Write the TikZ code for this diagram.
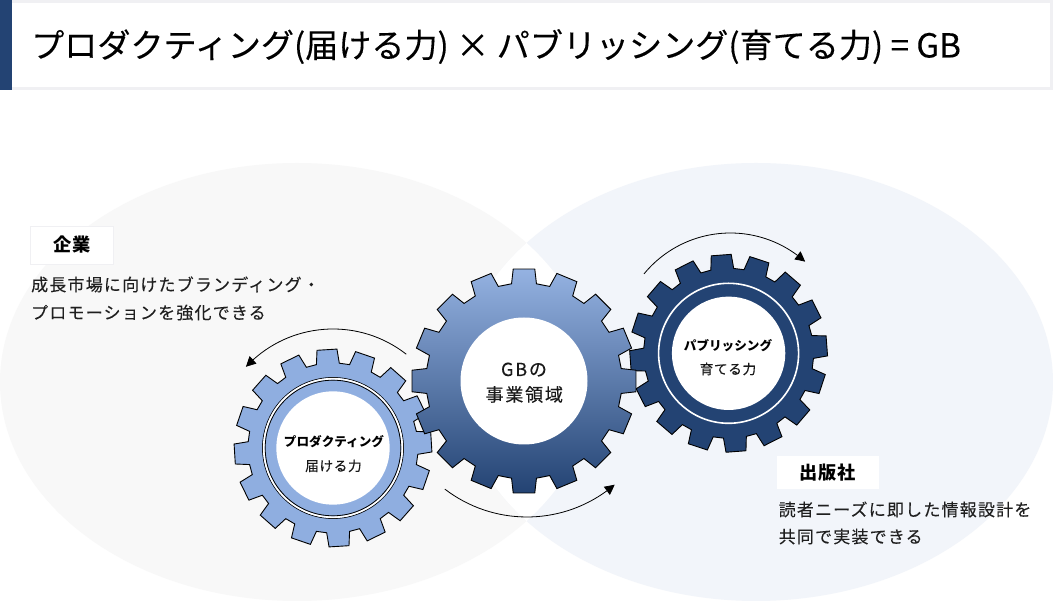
\documentclass[tikz,border=0pt]{standalone}
\usepackage{fontspec}
\usetikzlibrary{arrows.meta,bending}
\setmainfont{Noto Sans CJK JP}
\newfontfamily\jpmed{Noto Sans CJK JP}[FakeBold=0.25]
\newfontfamily\jpbold{Noto Sans CJK JP}
\newfontfamily\jpspaced{Noto Sans CJK JP}[FakeBold=0.1,LetterSpace=7]
\newfontfamily\jpgear{Noto Sans CJK JP}[FakeBold=0.25,LetterSpace=10]
\newfontfamily\jpgears{Noto Sans CJK JP}[FakeBold=0.25,LetterSpace=5]
\newfontfamily\jptag{Noto Sans CJK JP}[LetterSpace=5]
\definecolor{navy}{HTML}{234373}
\definecolor{lightblue}{HTML}{8FAEE0}
\definecolor{bandgray}{HTML}{F0F0F3}
\definecolor{lefte}{HTML}{F8F8F8}
\definecolor{righte}{HTML}{F2F5FA}
\newcommand{\gearpath}[6]{% R, r, tiphalf, basehalf, rot, path options
  \def\gp{}%
  \foreach \k in {0,...,15}{%
    \pgfmathsetmacro\ga{#5+22.5*\k}%
    \pgfmathsetmacro\gb{\ga-#4}\pgfmathsetmacro\gc{\ga-#3}%
    \pgfmathsetmacro\gd{\ga+#3}\pgfmathsetmacro\ge{\ga+#4}%
    \xdef\gp{\gp (\gb:#2) -- (\gc:#1) -- (\gd:#1) -- (\ge:#2) -- }%
  }%
  \path[#6] \gp cycle;%
}
\tikzset{
  geardraw/.style={draw=black,line width=0.9pt,line join=miter},
  tagbox/.style={fill=white,inner sep=0pt,text=black},
  tagtext/.style={anchor=base,inner sep=0pt,font=\fontsize{18.2}{18}\jptag\bfseries,text=black},
  bodytext/.style={anchor=base west,inner sep=0pt,font=\fontsize{17}{17}\jpspaced,text=black!88},
  gearbig/.style={anchor=base,inner sep=0pt,font=\fontsize{18}{18}\jpgear,text=black!90},
  gearsm/.style={anchor=base,inner sep=0pt,font=\fontsize{13.6}{14}\jpgears,text=black!90},
  gearsb/.style={anchor=base,inner sep=0pt,font=\fontsize{12.6}{13}\jpbold\bfseries,text=black},
  turn/.style={draw=black,line width=0.8pt,-{Triangle[length=10pt,width=10pt,bend]}},
}
\begin{document}
\begin{tikzpicture}[x=1pt,y=1pt]
\useasboundingbox (0,0) rectangle (1053,602);
\fill[white] (0,0) rectangle (1053,602);
% header
\fill[bandgray] (0,512) rectangle (1053,602);
\fill[white] (12,515) rectangle (1050,599);
\fill[navy] (0,512) rectangle (12,602);
\node[anchor=base west,inner sep=0pt,font=\fontsize{33.1}{34}\jpmed] (title) at (31,544.5) {プロダクティング(届ける力) × パブリッシング(育てる力) = GB};
% ellipses
\fill[lefte] (297,220) ellipse [x radius=297,y radius=219];
\fill[righte] (756,220) ellipse [x radius=297,y radius=219];
\begin{scope}
\clip (297,220) ellipse [x radius=297,y radius=219];
\fill[white] (756,220) ellipse [x radius=297,y radius=219];
\end{scope}
% left gear
\begin{scope}[shift={(333,154)}]
\gearpath{99}{85}{5.8}{7.75}{93.5}{geardraw,fill=lightblue}
\draw[black,line width=0.8pt] (0,0) circle (70.5);
\draw[white,line width=1.8pt] (0,0) circle (69.2);
\draw[black,line width=0.8pt] (0,0) circle (67.8);
\fill[white] (0,0) circle (56.7);
\coordinate (leftc) at (0,0);
\end{scope}
% right gear
\begin{scope}[shift={(728.6,248.7)}]
\gearpath{99}{85}{5.8}{7.75}{94.3}{geardraw,fill=navy}
\draw[white,line width=1.6pt] (0,0) circle (70);
\fill[white] (0,0) circle (56.7);
\coordinate (rightc) at (0,0);
\end{scope}
% big gear
\begin{scope}[shift={(524,221)}]
\gearpath{112.5}{98}{5.5}{7.3}{90}{geardraw,top color=lightblue!95!white,bottom color=navy}
\fill[white] (0,0) circle (63.5);
\coordinate (bigc) at (0,0);
\end{scope}
% gear labels
\node[gearbig] (bigA) at (524,226) {GBの};
\node[gearbig] (bigB) at (524.3,200.7) {事業領域};
\node[gearsb] (leftA) at (334,155.5) {プロダクティング};
\node[gearsm] (leftB) at (333.5,131) {届ける力};
\node[gearsb] (rightA) at (728,251.5) {パブリッシング};
\node[gearsm] (rightB) at (728,227.8) {育てる力};
% tags and body texts
\node[tagbox,draw=bandgray,line width=0.6pt,minimum width=83pt,minimum height=38pt] (tagL) at (71.5,357) {};
\node[tagtext] (tagLt) at (72,350.2) {企業};
\node[bodytext] (bodyL1) at (31,311) {成長市場に向けたブランディング・};
\node[bodytext] (bodyL2) at (31,283) {プロモーションを強化できる};
\node[tagbox,minimum width=102pt,minimum height=33pt] (tagR) at (828,129.5) {};
\node[tagtext] (tagRt) at (828,122.5) {出版社};
\node[bodytext] (bodyR1) at (778.5,86) {読者ニーズに即した情報設計を};
\node[bodytext] (bodyR2) at (778.5,59) {共同で実装できる};
% rotation arrows
\coordinate (startL) at ([shift={(52:119)}]leftc);
\coordinate (startB) at ([shift={(232.5:135)}]527,220);
\coordinate (startR) at ([shift={(140.7:111.7)}]730.4,257.3);
\draw[turn] (startL) arc[start angle=52,end angle=137,radius=119];
\draw[turn] (startB) arc[start angle=232.5,end angle=310.5,radius=135];
\draw[turn] (startR) arc[start angle=140.7,end angle=48,radius=111.7];
\end{tikzpicture}
\end{document}
